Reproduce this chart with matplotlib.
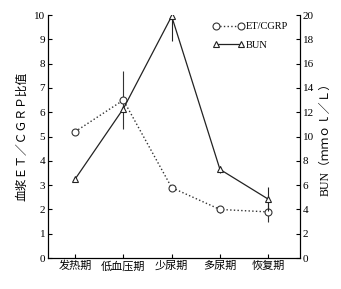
import matplotlib
matplotlib.use("Agg")
import matplotlib.pyplot as plt
from matplotlib.lines import Line2D
import numpy as np

plt.rcParams['font.family'] = ['Liberation Serif', 'Noto Sans CJK SC']

phases = ["发热期", "低血压期", "少尿期", "多尿期", "恢复期"]
et_cgrp = [5.2, 6.5, 2.9, 2.0, 1.9]
et_err = [0.1, 1.2, 0.1, 0.15, 0.4]
bun = [6.5, 12.3, 19.9, 7.3, 4.85]
bun_err = [0.2, 0.2, 2.0, 0.3, 1.0]

x = np.arange(len(phases))

fig = plt.figure(figsize=(3.41, 2.89), dpi=100)
ax = fig.add_axes([0.141, 0.107, 0.739, 0.841])
ax2 = ax.twinx()

ax.errorbar(x, et_cgrp, yerr=et_err, color="#333333", ls=":", lw=1,
            marker="o", mfc="white", ms=5, mew=0.8, capsize=0,
            elinewidth=0.8)
ax2.errorbar(x, bun, yerr=bun_err, color="#222222", ls="-", lw=0.9,
             marker="^", mfc="white", ms=5, mew=0.8, capsize=0,
             elinewidth=0.8)

ax.set_xlim(-0.56, 4.66)
ax.set_ylim(0, 10)
ax2.set_ylim(0, 20)
ax.set_yticks(range(0, 11))
ax2.set_yticks(range(0, 21, 2))
ax.set_xticks(x)
ax.set_xticklabels(phases, fontsize=8)
ax.tick_params(axis="both", direction="in", length=3, labelsize=8, pad=2)
ax2.tick_params(axis="y", direction="in", length=3, labelsize=8, pad=2)
ax.spines["top"].set_visible(False)
ax2.spines["top"].set_visible(False)

ax.set_ylabel("血浆ＥＴ／ＣＧＲＰ比值", fontsize=8.5, labelpad=4)
ax2.set_ylabel("BUN（ｍｍｏｌ／Ｌ）", fontsize=8.5, labelpad=4)

h1 = Line2D([], [], color="#333333", ls=":", lw=1, marker="o",
            mfc="white", ms=5, mew=0.8)
h2 = Line2D([], [], color="#222222", ls="-", lw=0.9, marker="^",
            mfc="white", ms=5, mew=0.8)
ax.legend([h1, h2], ["ET/CGRP", "BUN"], loc="upper right",
          bbox_to_anchor=(0.99, 1.01), frameon=False, fontsize=7.5,
          numpoints=2, handlelength=3, handletextpad=0.2, labelspacing=0.9)

fig.savefig("out.png", dpi=100)
